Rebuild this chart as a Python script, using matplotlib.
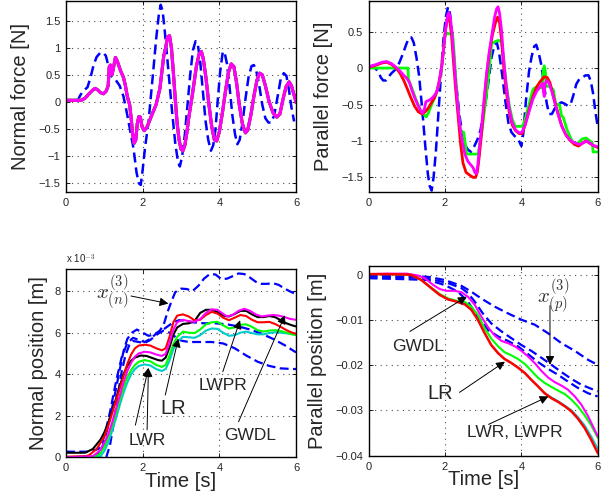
import matplotlib
matplotlib.use('Agg')
import matplotlib.pyplot as plt
from matplotlib.ticker import FuncFormatter

plt.rcParams['font.family'] = ['Liberation Sans', 'DejaVu Sans']
plt.rcParams['mathtext.fontset'] = 'cm'

# ---------------- data ----------------
# Normal force [N]: model outputs (all nearly identical) and demonstration (dashed)
nf_t = [0, 0.4, 0.5, 0.6, 0.7, 0.76, 0.83, 0.9, 0.98, 1.05, 1.1, 1.13, 1.16, 1.2, 1.23, 1.29, 1.34,
        1.42, 1.5, 1.55, 1.6, 1.66, 1.7, 1.74, 1.78, 1.82, 1.86, 1.9, 1.94, 1.98, 2.04, 2.1, 2.15,
        2.25, 2.35, 2.45, 2.5, 2.55, 2.6, 2.65, 2.7, 2.75, 2.8, 2.85, 2.9, 2.95, 3.0, 3.05, 3.1,
        3.15, 3.2, 3.3, 3.4, 3.47, 3.53, 3.58, 3.65, 3.72, 3.8, 3.87, 3.93, 4.0, 4.08, 4.16, 4.24,
        4.31, 4.38, 4.45, 4.52, 4.6, 4.68, 4.74, 4.82, 4.9, 4.98, 5.05, 5.12, 5.2, 5.3, 5.4, 5.5,
        5.58, 5.66, 5.74, 5.82, 5.88, 5.94, 6.0]
nf_model = [0.03, 0.03, 0.07, 0.15, 0.22, 0.25, 0.22, 0.17, 0.15, 0.2, 0.3, 0.65, 0.68, 0.5, 0.6,
            0.82, 0.75, 0.58, 0.45, 0.3, 0.1, -0.05, -0.3, -0.6, -0.76, -0.7, -0.4, -0.27, -0.28,
            -0.45, -0.53, -0.48, -0.4, -0.22, -0.05, 0.25, 0.55, 0.85, 1.0, 1.2, 1.22, 1.0, 0.55,
            0.05, -0.4, -0.7, -0.87, -0.9, -0.8, -0.58, -0.3, 0.15, 0.65, 0.88, 0.93, 0.8, 0.45,
            0.0, -0.45, -0.7, -0.72, -0.55, -0.2, 0.2, 0.55, 0.7, 0.65, 0.35, -0.05, -0.4, -0.57,
            -0.52, -0.25, 0.1, 0.4, 0.53, 0.5, 0.3, 0.0, -0.2, -0.28, -0.22, 0.05, 0.28, 0.37, 0.3,
            0.15, 0.0]
nf_demo_t = [0.29, 0.37, 0.45, 0.56, 0.64, 0.72, 0.8, 0.9, 0.98, 1.04, 1.1, 1.15, 1.22, 1.3, 1.4,
             1.5, 1.59, 1.68, 1.76, 1.84, 1.9, 1.95, 2.0, 2.06, 2.15, 2.22, 2.28, 2.35, 2.42, 2.47,
             2.52, 2.57, 2.63, 2.7, 2.77, 2.85, 2.92, 2.97, 3.03, 3.1, 3.17, 3.24, 3.31, 3.38, 3.44,
             3.5, 3.57, 3.64, 3.71, 3.78, 3.84, 3.9, 3.96, 4.02, 4.09, 4.14, 4.2, 4.27, 4.34, 4.41,
             4.47, 4.53, 4.6, 4.68, 4.76, 4.84, 4.9, 4.96, 5.03, 5.12, 5.2, 5.28, 5.35, 5.43, 5.52,
             5.6, 5.68, 5.75, 5.82, 5.88, 5.95]
nf_demo = [0.0, 0.12, 0.2, 0.27, 0.45, 0.68, 0.83, 0.91, 0.9, 0.85, 0.68, 0.5, 0.45, 0.4, 0.3, 0.1,
           -0.21, -0.55, -0.85, -1.3, -1.5, -1.53, -1.25, -0.85, -0.39, 0.15, 0.6, 1.15, 1.6, 1.79,
           1.68, 1.35, 0.9, 0.35, -0.2, -0.76, -1.1, -1.19, -1.0, -0.6, -0.05, 0.5, 0.95, 1.12, 1.05,
           0.75, 0.2, -0.35, -0.7, -0.9, -0.8, -0.5, 0.05, 0.55, 0.93, 0.9, 0.7, 0.25, -0.25, -0.6,
           -0.78, -0.7, -0.4, 0.05, 0.45, 0.66, 0.68, 0.58, 0.35, -0.05, -0.3, -0.38, -0.38, -0.25,
           0.1, 0.42, 0.53, 0.48, 0.2, -0.1, -0.36]

# Parallel force [N]
pf_red_t = [0, 0.2, 0.35, 0.47, 0.6, 0.72, 0.82, 0.92, 1.0, 1.1, 1.2, 1.3, 1.4, 1.48, 1.56, 1.65,
            1.73, 1.8, 1.86, 1.92, 1.97, 2.02, 2.07, 2.12, 2.17, 2.22, 2.28, 2.35, 2.41, 2.47, 2.55,
            2.65, 2.74, 2.8, 2.85, 2.9, 2.96, 3.02, 3.09, 3.16, 3.24, 3.32, 3.38, 3.43, 3.48, 3.54,
            3.6, 3.68, 3.76, 3.85, 3.95, 4.02, 4.1, 4.2, 4.3, 4.4, 4.5, 4.6, 4.68, 4.75, 4.84, 4.95,
            5.05, 5.15, 5.27, 5.4, 5.5, 5.6, 5.68, 5.76, 5.84, 5.92, 6.0]
pf_red = [0.01, 0.04, 0.07, 0.08, 0.05, 0.0, -0.07, -0.17, -0.27, -0.4, -0.52, -0.6, -0.63, -0.6,
          -0.55, -0.47, -0.4, -0.3, -0.15, 0.05, 0.3, 0.55, 0.7, 0.67, 0.45, 0.1, -0.3, -0.7, -1.05,
          -1.3, -1.43, -1.47, -1.5, -1.5, -1.42, -1.2, -0.89, -0.5, -0.1, 0.2, 0.45, 0.62, 0.7, 0.62,
          0.39, 0.0, -0.3, -0.6, -0.78, -0.86, -0.9, -0.9, -0.78, -0.58, -0.4, -0.26, -0.18, -0.12,
          -0.13, -0.2, -0.39, -0.6, -0.78, -0.9, -0.99, -1.05, -1.07, -1.03, -1.0, -1.02, -1.05,
          -1.07, -1.09]
pf_mag_t = [0, 0.2, 0.35, 0.47, 0.6, 0.72, 0.82, 0.92, 1.0, 1.07, 1.13, 1.2, 1.3, 1.38, 1.42, 1.46,
            1.5, 1.55, 1.62, 1.7, 1.78, 1.85, 1.92, 1.97, 2.02, 2.07, 2.1, 2.14, 2.18, 2.23, 2.28,
            2.33, 2.39, 2.45, 2.52, 2.6, 2.68, 2.74, 2.78, 2.82, 2.86, 2.91, 2.96, 3.02, 3.09, 3.16,
            3.24, 3.3, 3.35, 3.39, 3.43, 3.48, 3.54, 3.6, 3.68, 3.76, 3.85, 3.95, 4.02, 4.1, 4.2,
            4.3, 4.4, 4.5, 4.56, 4.58, 4.6, 4.62, 4.66, 4.72, 4.8, 4.88, 4.97, 5.06, 5.18, 5.3, 5.42,
            5.54, 5.64, 5.72, 5.8, 5.88, 6.0]
pf_mag = [0.02, 0.05, 0.08, 0.09, 0.06, 0.01, -0.04, -0.1, -0.14, -0.2, -0.3, -0.4, -0.52, -0.6,
          -0.62, -0.56, -0.46, -0.45, -0.43, -0.39, -0.33, -0.18, 0.05, 0.3, 0.55, 0.73, 0.76, 0.7,
          0.5, 0.15, -0.2, -0.5, -0.8, -1.0, -1.18, -1.28, -1.33, -1.37, -1.43, -1.45, -1.33, -1.05,
          -0.8, -0.45, -0.07, 0.22, 0.5, 0.7, 0.81, 0.84, 0.75, 0.52, 0.1, -0.22, -0.55, -0.75,
          -0.85, -0.89, -0.88, -0.78, -0.6, -0.43, -0.32, -0.25, -0.21, -0.33, -0.39, -0.22, -0.17,
          -0.2, -0.32, -0.48, -0.65, -0.8, -0.93, -1.0, -1.03, -1.05, -1.02, -1.0, -1.03, -1.06,
          -1.08]
pf_grn_t = [0, 1.03, 1.04, 1.15, 1.25, 1.35, 1.45, 1.51, 1.56, 1.65, 1.75, 1.83, 1.9, 1.95, 2.0,
            2.2, 2.24, 2.29, 2.35, 2.41, 2.49, 2.52, 2.57, 2.87, 2.92, 2.97, 3.03, 3.1, 3.16, 3.22,
            3.3, 3.4, 3.48, 3.54, 3.6, 3.68, 3.76, 3.84, 4.03, 4.1, 4.2, 4.3, 4.35, 4.55, 4.57, 4.6,
            4.63, 4.65, 4.75, 4.84, 4.9, 5.0, 5.05, 5.1, 5.2, 5.3, 5.4, 5.5, 5.6, 5.7, 5.8, 5.86,
            5.88, 6.0]
pf_grn = [0.0, 0.0, -0.15, -0.3, -0.45, -0.57, -0.64, -0.67, -0.62, -0.5, -0.38, -0.25, -0.05, 0.2,
          0.47, 0.47, 0.2, -0.2, -0.6, -0.88, -0.88, -1.0, -1.18, -1.18, -1.0, -0.85, -0.6, -0.3,
          0.0, 0.33, 0.36, 0.38, 0.36, 0.1, -0.2, -0.5, -0.7, -0.8, -0.8, -0.7, -0.5, -0.3, -0.27,
          -0.27, -0.05, 0.03, -0.05, -0.25, -0.25, -0.3, -0.5, -0.5, -0.65, -0.68, -0.85, -0.97,
          -1.05, -1.02, -0.97, -0.96, -1.0, -1.03, -1.15, -1.15]
pf_demo_t = [0, 0.15, 0.25, 0.32, 0.38, 0.45, 0.52, 0.6, 0.7, 0.8, 0.9, 0.98, 1.05, 1.12, 1.18,
             1.25, 1.32, 1.4, 1.48, 1.55, 1.6, 1.65, 1.7, 1.76, 1.83, 1.9, 1.96, 2.02, 2.08, 2.13,
             2.18, 2.24, 2.3, 2.38, 2.45, 2.52, 2.6, 2.68, 2.76, 2.85, 2.93, 3.0, 3.09, 3.16, 3.22,
             3.3, 3.36, 3.42, 3.5, 3.58, 3.66, 3.74, 3.82, 3.92, 4.0, 4.05, 4.12, 4.2, 4.27, 4.34,
             4.39, 4.45, 4.52, 4.6, 4.67, 4.73, 4.8, 4.88, 4.96, 5.05, 5.14, 5.22, 5.3, 5.37, 5.44,
             5.52, 5.6, 5.68, 5.76, 5.82, 5.88, 5.94, 6.0]
pf_demo = [0.02, 0.01, -0.05, -0.13, -0.17, -0.17, -0.12, -0.07, -0.02, 0.07, 0.2, 0.32, 0.41,
           0.42, 0.35, 0.15, -0.1, -0.55, -1.05, -1.45, -1.62, -1.68, -1.5, -1.15, -0.6, -0.05, 0.4,
           0.7, 0.84, 0.75, 0.5, 0.1, -0.25, -0.65, -0.9, -1.05, -1.12, -1.15, -1.08, -0.98, -0.85,
           -0.65, -0.38, -0.1, 0.15, 0.32, 0.35, 0.2, -0.1, -0.45, -0.75, -0.88, -0.93, -0.98,
           -1.07, -0.9, -0.45, -0.05, 0.16, 0.3, 0.32, 0.22, 0.05, -0.25, -0.5, -0.63, -0.63, -0.55,
           -0.5, -0.47, -0.49, -0.52, -0.48, -0.36, -0.22, -0.15, -0.13, -0.1, -0.1, -0.18, -0.35,
           -0.6, -0.8]

# Normal position [x 1e-3 m]
np_red_t = [0, 0.5, 0.6, 0.8, 1.0, 1.1, 1.2, 1.3, 1.4, 1.5, 1.6, 1.7, 1.8, 1.9, 2.05, 2.2, 2.35,
            2.5, 2.6, 2.7, 2.8, 2.9, 3.05, 3.2, 3.35, 3.5, 3.65, 3.8, 3.95, 4.1, 4.25, 4.4, 4.55,
            4.7, 4.85, 5.0, 5.15, 5.3, 5.45, 5.6, 5.75, 5.9, 6.0]
np_red = [0.03, 0.05, 0.1, 0.4, 1.0, 1.5, 2.1, 2.7, 3.3, 3.9, 4.5, 4.95, 5.25, 5.38, 5.42, 5.38,
          5.25, 5.15, 5.25, 5.8, 6.5, 6.82, 6.88, 6.78, 6.6, 6.62, 6.85, 7.0, 6.92, 6.72, 6.6,
          6.72, 6.85, 6.8, 6.62, 6.5, 6.5, 6.52, 6.42, 6.28, 6.12, 6.0, 5.95]
np_blk_t = [0, 0.5, 0.7, 0.9, 1.0, 1.1, 1.2, 1.3, 1.4, 1.5, 1.6, 1.7, 1.8, 1.95, 2.1, 2.25, 2.4,
            2.5, 2.6, 2.7, 2.8, 2.9, 3.05, 3.2, 3.35, 3.5, 3.65, 3.8, 3.95, 4.1, 4.25, 4.4, 4.55,
            4.7, 4.85, 5.0, 5.15, 5.3, 5.45, 5.6, 5.75, 5.9, 6.0]
np_blk = [0.22, 0.22, 0.4, 0.85, 1.2, 1.65, 2.2, 2.8, 3.4, 4.0, 4.4, 4.65, 4.8, 4.9, 4.88, 4.78,
          4.68, 4.65, 4.8, 5.3, 5.9, 6.25, 6.42, 6.45, 6.55, 6.95, 7.1, 7.1, 7.0, 6.82, 6.78, 6.9,
          7.05, 7.05, 6.88, 6.75, 6.75, 6.8, 6.75, 6.6, 6.45, 6.35, 6.3]
np_mag_t = [0, 0.7, 0.9, 1.0, 1.1, 1.2, 1.3, 1.4, 1.5, 1.6, 1.7, 1.8, 1.9, 2.05, 2.2, 2.35, 2.5,
            2.6, 2.7, 2.8, 2.9, 3.05, 3.2, 3.35, 3.5, 3.65, 3.8, 3.95, 4.1, 4.2, 4.35, 4.5, 4.65,
            4.8, 4.95, 5.1, 5.25, 5.4, 5.55, 5.7, 5.85, 6.0]
np_mag = [0.0, 0.05, 0.35, 0.7, 1.1, 1.65, 2.3, 2.95, 3.6, 4.15, 4.55, 4.85, 5.0, 5.08, 5.05,
          4.95, 4.88, 4.98, 5.5, 6.15, 6.5, 6.62, 6.55, 6.52, 6.65, 6.95, 7.12, 7.1, 6.9, 6.78,
          6.85, 7.05, 7.15, 7.05, 6.88, 6.78, 6.82, 6.85, 6.82, 6.75, 6.66, 6.62]
np_grn_t = [0, 0.8, 0.9, 1.0, 1.1, 1.2, 1.3, 1.4, 1.5, 1.6, 1.7, 1.8, 1.9, 2.05, 2.2, 2.35, 2.5,
            2.6, 2.7, 2.8, 2.9, 3.05, 3.2, 3.35, 3.5, 3.65, 3.8, 3.95, 4.1, 4.25, 4.4, 4.55, 4.7,
            4.85, 5.0, 5.15, 5.3, 5.45, 5.6, 5.75, 5.9, 6.0]
np_grn = [0.0, 0.05, 0.2, 0.5, 0.95, 1.5, 2.1, 2.75, 3.35, 3.85, 4.2, 4.45, 4.6, 4.68, 4.62, 4.45,
          4.35, 4.45, 4.9, 5.45, 5.8, 6.05, 6.0, 5.98, 6.15, 6.4, 6.5, 6.52, 6.35, 6.2, 6.25, 6.38,
          6.4, 6.28, 6.12, 6.05, 6.1, 6.12, 6.08, 6.0, 5.92, 5.88]
np_cyn_t = [0, 0.9, 1.0, 1.1, 1.2, 1.3, 1.4, 1.5, 1.6, 1.7, 1.8, 1.9, 2.05, 2.2, 2.35, 2.5, 2.6,
            2.7, 2.8, 2.9, 3.05, 3.2, 3.35, 3.5, 3.65, 3.8, 3.95, 4.1, 4.25, 4.4, 4.55, 4.7, 4.85,
            5.0, 5.15, 5.3, 5.45, 5.6, 5.75, 5.9, 6.0]
np_cyn = [0.0, 0.05, 0.3, 0.7, 1.25, 1.85, 2.5, 3.1, 3.6, 4.0, 4.25, 4.4, 4.47, 4.42, 4.25, 4.15,
          4.25, 4.65, 5.2, 5.55, 5.8, 5.78, 5.75, 5.88, 6.1, 6.2, 6.18, 6.0, 5.85, 5.88, 6.0, 6.05,
          5.98, 5.92, 5.92, 5.98, 6.02, 6.0, 5.97, 5.93, 5.9]
np_demo1_t = [0, 0.8, 0.95, 1.1, 1.25, 1.4, 1.5, 1.6, 1.72, 1.85, 2.0, 2.15, 2.3, 2.45, 2.55, 2.65,
              2.75, 2.85, 3.0, 3.15, 3.3, 3.45, 3.6, 3.75, 3.9, 4.05, 4.2, 4.35, 4.5, 4.65, 4.8,
              4.95, 5.1, 5.25, 5.4, 5.55, 5.7, 5.85, 6.0]
np_demo1 = [0.0, 0.05, 0.5, 1.5, 2.8, 4.2, 5.1, 5.7, 6.0, 6.15, 6.0, 5.85, 5.9, 6.1, 6.4, 7.0, 7.5,
            7.95, 8.12, 8.1, 8.0, 8.25, 8.6, 8.82, 8.8, 8.58, 8.6, 8.72, 8.85, 8.82, 8.65, 8.45,
            8.35, 8.35, 8.38, 8.3, 8.12, 7.98, 7.85]
np_demo2_t = [0, 0.6, 0.85, 1.0, 1.15, 1.3, 1.45, 1.6, 1.75, 1.9, 2.05, 2.2, 2.35, 2.5, 2.65, 2.8,
              2.95, 3.1, 3.3, 3.6, 3.9, 4.2, 4.5, 4.8, 5.1, 5.4, 5.7, 6.0]
np_demo2 = [0.27, 0.27, 0.4, 1.0, 2.2, 3.6, 4.8, 5.5, 5.75, 5.65, 5.55, 5.7, 5.95, 6.1, 6.3, 6.5,
            6.6, 6.58, 6.5, 6.45, 6.45, 6.4, 6.3, 6.15, 5.95, 5.7, 5.4, 5.05]
np_demo3_t = [0, 1.05, 1.15, 1.25, 1.35, 1.45, 1.55, 1.65, 1.75, 1.9, 2.05, 2.2, 2.4, 2.55, 2.7,
              2.85, 3.0, 3.2, 3.5, 3.8, 4.1, 4.4, 4.7, 5.0, 5.3, 5.6, 5.9, 6.0]
np_demo3 = [0.0, 0.0, 0.6, 1.7, 3.0, 4.1, 4.9, 5.4, 5.6, 5.55, 5.5, 5.65, 5.95, 6.1, 6.0, 5.8,
            5.62, 5.55, 5.55, 5.55, 5.48, 5.25, 4.9, 4.6, 4.4, 4.28, 4.25, 4.25]

# Parallel position [m]
pp_t = [0, 0.5, 1.0, 1.12, 1.38, 1.64, 1.86, 2.08, 2.3, 2.52, 2.69, 2.86, 3.04, 3.21, 3.39, 3.56,
        3.74, 3.91, 4.09, 4.26, 4.44, 4.61, 4.79, 4.96, 5.14, 5.31, 5.48, 5.66, 5.83, 6.0]
pp_red = [0.0002, 0.0002, 0.0001, 0.0, -0.0011, -0.0029, -0.0044, -0.0054, -0.0059, -0.0065,
          -0.0077, -0.0099, -0.0129, -0.0155, -0.0173, -0.0186, -0.0195, -0.0205, -0.0217, -0.0232,
          -0.0247, -0.0262, -0.0273, -0.0281, -0.0291, -0.0302, -0.0318, -0.0339, -0.0365, -0.0394]
pp_cyn = [0.0002, 0.0002, 0.0001, 0.0, -0.0011, -0.0029, -0.0044, -0.0054, -0.0059, -0.0065,
          -0.0077, -0.0099, -0.0129, -0.0155, -0.0173, -0.0186, -0.0195, -0.0205, -0.0217, -0.0232,
          -0.0247, -0.0261, -0.0271, -0.0279, -0.0289, -0.0299, -0.0314, -0.0333, -0.0357, -0.0384]
pp_grn = [0.0002, 0.0002, 0.0001, 0.0, -0.0011, -0.0028, -0.0042, -0.0052, -0.0057, -0.006,
          -0.007, -0.0088, -0.0118, -0.0141, -0.0158, -0.0171, -0.0178, -0.0186, -0.0197, -0.0212,
          -0.0228, -0.0239, -0.0248, -0.0256, -0.0264, -0.0276, -0.0291, -0.0311, -0.0333, -0.036]
pp_mag_t = [0, 0.5, 1.0, 1.29, 1.47, 1.69, 1.86, 2.03, 2.25, 2.43, 2.6, 2.78, 2.95, 3.13, 3.3,
            3.48, 3.65, 3.83, 4.0, 4.17, 4.35, 4.52, 4.7, 4.87, 5.05, 5.22, 5.4, 5.57, 5.75, 5.92, 6.0]
pp_mag = [0.0002, 0.0003, 0.0003, -0.0001, -0.0007, -0.0022, -0.0031, -0.0035, -0.0035, -0.0038,
          -0.0048, -0.0066, -0.0092, -0.0116, -0.0134, -0.0146, -0.0151, -0.0158, -0.0168, -0.018,
          -0.0195, -0.0212, -0.0227, -0.0237, -0.0245, -0.0254, -0.0269, -0.0287, -0.0313, -0.0343,
          -0.0357]
pp_demo1_t = [0, 1.55, 1.99, 2.43, 2.69, 2.95, 3.3, 3.65, 4.0, 4.35, 4.7, 5.05, 5.4, 5.75, 6.0]
pp_demo1 = [0.0, -0.0004, -0.0011, -0.0024, -0.0037, -0.0052, -0.007, -0.0085, -0.0099, -0.011,
            -0.0129, -0.0151, -0.0168, -0.0188, -0.0199]
pp_demo2_t = [0, 1.29, 1.73, 2.08, 2.43, 2.6, 2.78, 2.99, 3.21, 3.48, 3.74, 4.0, 4.26, 4.52, 4.79,
              5.05, 5.31, 5.57, 5.83, 6.0]
pp_demo2 = [-0.0003, -0.0006, -0.0011, -0.0018, -0.0029, -0.004, -0.0059, -0.0085, -0.0107,
            -0.0125, -0.014, -0.0155, -0.0168, -0.0183, -0.0199, -0.0215, -0.023, -0.0243, -0.0252,
            -0.0258]
pp_demo3_t = [0, 0.86, 1.55, 1.99, 2.34, 2.6, 2.86, 3.13, 3.39, 3.65, 3.91, 4.17, 4.44, 4.7, 4.96,
              5.22, 5.48, 5.75, 6.0]
pp_demo3 = [-0.0007, -0.0009, -0.0011, -0.0022, -0.0037, -0.0059, -0.0092, -0.0122, -0.0136,
            -0.0146, -0.0158, -0.0175, -0.0193, -0.0208, -0.0221, -0.0236, -0.025, -0.0262, -0.0269]

# ---------------- drawing ----------------
fig = plt.figure(figsize=(6.11, 5.0), dpi=100)

ax1 = fig.add_axes([0.108, 0.616, 0.3765, 0.382])
ax2 = fig.add_axes([0.6034, 0.616, 0.3748, 0.382])
ax3 = fig.add_axes([0.108, 0.0854, 0.3765, 0.376])
ax4 = fig.add_axes([0.6034, 0.088, 0.3748, 0.38])

dash = (0, (4, 2))
blue = '#0000ff'
txt = '#262626'


def fmt(v, pos):
    return f'{v:g}'.replace('-', '\u2212')


def style(ax, ylim, yticks):
    ax.set_xlim(0, 6)
    ax.set_ylim(*ylim)
    ax.set_xticks([0, 2, 4, 6])
    ax.set_yticks(yticks)
    ax.xaxis.set_major_formatter(FuncFormatter(fmt))
    ax.yaxis.set_major_formatter(FuncFormatter(fmt))
    ax.tick_params(direction='in', top=True, right=True, length=3, width=0.6,
                   labelsize=8, pad=4, colors='k', labelcolor=txt)
    ax.grid(True, linestyle=(0, (1, 4)), color='0.3', linewidth=0.8)
    for s in ax.spines.values():
        s.set_linewidth(1.0)
        s.set_color('k')


# Normal force
ax1.plot(nf_demo_t, nf_demo, color=blue, lw=1.8, linestyle=dash)
ax1.plot(nf_t, nf_model, color='#00ffff', lw=2.2)
ax1.plot(nf_t, nf_model, color='#00ff00', lw=2.2)
ax1.plot(nf_t, nf_model, color='#ff0000', lw=2.2)
ax1.plot(nf_t, nf_model, color='#ff00ff', lw=2.2)
style(ax1, (-1.66, 1.86), [-1.5, -1, -0.5, 0, 0.5, 1, 1.5])
ax1.set_ylabel('Normal force [N]', fontsize=14.5, color=txt)
ax1.yaxis.set_label_coords(-0.157, 0.5)

# Parallel force
ax2.plot(pf_demo_t, pf_demo, color=blue, lw=1.8, linestyle=dash)
ax2.plot(pf_grn_t, pf_grn, color='#00ff00', lw=2.0)
ax2.plot(pf_red_t, pf_red, color='#ff0000', lw=2.0)
ax2.plot(pf_mag_t, pf_mag, color='#ff00ff', lw=2.0)
style(ax2, (-1.70, 0.92), [-1.5, -1, -0.5, 0, 0.5])
ax2.set_ylabel('Parallel force [N]', fontsize=14.5, color=txt)
ax2.yaxis.set_label_coords(-0.156, 0.5)

# Normal position
for tt, vv in [(np_demo1_t, np_demo1), (np_demo2_t, np_demo2), (np_demo3_t, np_demo3)]:
    ax3.plot(tt, vv, color=blue, lw=1.6, linestyle=dash)
ax3.plot(np_cyn_t, np_cyn, color='#00cccc', lw=1.5)
ax3.plot(np_grn_t, np_grn, color='#00ff00', lw=1.5)
ax3.plot(np_blk_t, np_blk, color='k', lw=1.5)
ax3.plot(np_red_t, np_red, color='#ff0000', lw=1.5)
ax3.plot(np_mag_t, np_mag, color='#ff00ff', lw=1.5)
style(ax3, (0, 9.05), [0, 2, 4, 6, 8])
ax3.set_ylabel('Normal position [m]', fontsize=14.5, color=txt)
ax3.yaxis.set_label_coords(-0.078, 0.5)
ax3.set_xlabel('Time [s]', fontsize=14.5, color=txt)
ax3.xaxis.set_label_coords(0.5, -0.08)
ax3.text(0.0, 1.015, r'x 10$^{-3}$', transform=ax3.transAxes, fontsize=7, color=txt,
         ha='left', va='bottom')

arrow = dict(arrowstyle='-|>', color='k', lw=0.7, mutation_scale=13, shrinkA=0, shrinkB=0)
ax3.annotate(r'$x^{(3)}_{(n)}$', xy=(2.67, 7.4), xytext=(1.2, 7.95), fontsize=15, color='#333333',
             ha='center', va='center', arrowprops=arrow)
ax3.annotate('LWR', xy=(2.15, 4.3), xytext=(2.11, 0.83), fontsize=12.5, color=txt,
             ha='center', va='center', arrowprops=arrow)
ax3.annotate('', xy=(2.15, 4.3), xytext=(1.81, 1.55), arrowprops=arrow)
ax3.text(2.8, 2.36, 'LR', fontsize=14.5, color=txt, ha='center', va='center')
ax3.annotate('', xy=(2.93, 5.72), xytext=(2.59, 3.0), arrowprops=arrow)
ax3.text(4.1, 3.48, 'LWPR', fontsize=12.5, color=txt, ha='center', va='center')
ax3.annotate('', xy=(4.54, 6.6), xytext=(4.09, 4.12), arrowprops=arrow)
ax3.text(4.8, 1.07, 'GWDL', fontsize=12.5, color=txt, ha='center', va='center')
ax3.annotate('', xy=(5.71, 6.84), xytext=(4.5, 1.71), arrowprops=arrow)

# Parallel position
for tt, vv in [(pp_demo1_t, pp_demo1), (pp_demo2_t, pp_demo2), (pp_demo3_t, pp_demo3)]:
    ax4.plot(tt, vv, color=blue, lw=1.6, linestyle=dash)
ax4.plot(pp_t, pp_cyn, color='#00cccc', lw=1.2)
ax4.plot(pp_t, pp_grn, color='#00ff00', lw=1.5)
ax4.plot(pp_mag_t, pp_mag, color='#ff00ff', lw=1.5)
ax4.plot(pp_t, pp_red, color='#ff0000', lw=1.8)
style(ax4, (-0.0401, 0.002), [-0.04, -0.03, -0.02, -0.01, 0])
ax4.set_ylabel('Parallel position [m]', fontsize=14.5, color=txt)
ax4.yaxis.set_label_coords(-0.182, 0.5)
ax4.set_xlabel('Time [s]', fontsize=14.5, color=txt)
ax4.xaxis.set_label_coords(0.5, -0.072)

ax4.text(1.3, -0.0158, 'GWDL', fontsize=12.5, color=txt, ha='center', va='center')
ax4.annotate('', xy=(2.57, -0.0048), xytext=(1.08, -0.0125), arrowprops=arrow)
ax4.text(1.87, -0.0262, 'LR', fontsize=14.5, color=txt, ha='center', va='center')
ax4.annotate('', xy=(3.57, -0.0192), xytext=(2.38, -0.026), arrowprops=arrow)
ax4.text(3.83, -0.035, 'LWR, LWPR', fontsize=12.5, color=txt, ha='center', va='center')
ax4.annotate('', xy=(4.71, -0.0269), xytext=(3.14, -0.0331), arrowprops=arrow)
ax4.text(4.84, -0.0045, r'$x^{(3)}_{(p)}$', fontsize=15, color='#333333', ha='center',
         va='center')
ax4.annotate('', xy=(4.75, -0.0199), xytext=(4.75, -0.0068), arrowprops=arrow)

fig.savefig('out.png', dpi=100)
